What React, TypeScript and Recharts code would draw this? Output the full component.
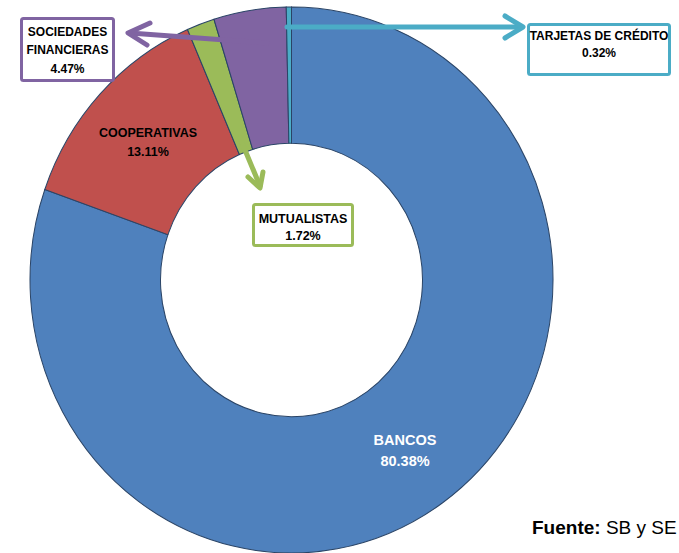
import { Cell, Pie, PieChart } from "recharts";

const NAMES = ["BANCOS", "COOPERATIVAS", "MUTUALISTAS", "SOCIEDADES FINANCIERAS", "TARJETAS DE CRÉDITO"];
const SHARES = [80.38, 13.11, 1.72, 4.47, 0.32];
const COLORS = ["#4F81BD", "#C0504D", "#9BBB59", "#8064A2", "#4BACC6"];
const SOURCE_LABEL = "Fuente:";
const SOURCE_TEXT = " SB y SE";

const FONT = "'Liberation Sans', Arial, sans-serif";

// the original donut is slightly taller than wide
const CX = 291.5;
const CY = 280;
const STRETCH_Y = 1.044;

const pct = (v: number) => `${v.toFixed(2)}%`;

function Arrow({ line, head, color, width }: { line: number[]; head: number[]; color: string; width: number }) {
  return (
    <g stroke={color} strokeWidth={width} fill="none" strokeLinecap="round" strokeLinejoin="round">
      <line x1={line[0]} y1={line[1]} x2={line[2]} y2={line[3]} />
      <polyline points={`${head[0]},${head[1]} ${head[2]},${head[3]} ${head[4]},${head[5]}`} />
    </g>
  );
}

function Box({ x, y, w, h, color }: { x: number; y: number; w: number; h: number; color: string }) {
  return <rect x={x} y={y} width={w} height={h} rx={2} fill="#fff" stroke={color} strokeWidth={3} />;
}

export default function App() {
  const data = NAMES.map((name, i) => ({ name, value: SHARES[i] }));

  return (
    <div style={{ position: "absolute", left: 0, top: 0, width: 679, height: 553, background: "#fff", overflow: "hidden" }}>
      <div style={{ transform: `scaleY(${STRETCH_Y})`, transformOrigin: `${CX}px ${CY}px` }}>
        <PieChart width={679} height={553} margin={{ top: 0, right: 0, bottom: 0, left: 0 }}>
          <Pie
            data={data}
            dataKey="value"
            nameKey="name"
            cx={CX}
            cy={CY}
            innerRadius={131}
            outerRadius={261.5}
            startAngle={90}
            endAngle={-270}
            stroke="#2A4466"
            strokeWidth={1}
            isAnimationActive={false}
          >
            {data.map((d, i) => (
              <Cell key={d.name} fill={COLORS[i]} />
            ))}
          </Pie>
        </PieChart>
      </div>

      <svg width={679} height={553} style={{ position: "absolute", left: 0, top: 0 }} fontFamily={FONT} fontWeight="bold">
        <Arrow line={[267, 43, 130, 33]} head={[150, 23, 128, 33, 147, 45]} color={COLORS[3]} width={5} />
        <Arrow line={[287, 27, 521, 27]} head={[505, 16, 523, 27, 505, 38]} color={COLORS[4]} width={5} />
        <Arrow line={[240, 138, 260, 186]} head={[248, 177, 260, 188, 263, 172]} color={COLORS[2]} width={5} />

        <Box x={21.5} y={18.5} w={92} h={62} color={COLORS[3]} />
        <text textAnchor="middle" fontSize={12} fill="#000">
          <tspan x={67.5} y={36}>SOCIEDADES</tspan>
          <tspan x={67.5} y={54}>FINANCIERAS</tspan>
          <tspan x={67.5} y={72.5}>{pct(SHARES[3])}</tspan>
        </text>

        <Box x={528.5} y={24.5} w={141} h={50} color={COLORS[4]} />
        <text textAnchor="middle" fontSize={12} fill="#000">
          <tspan x={599} y={40}>{NAMES[4]}</tspan>
          <tspan x={599} y={57}>{pct(SHARES[4])}</tspan>
        </text>

        <Box x={253.5} y={204.5} w={99} h={41} color={COLORS[2]} />
        <text textAnchor="middle" fontSize={12.5} fill="#000">
          <tspan x={303} y={223}>{NAMES[2]}</tspan>
          <tspan x={303} y={240}>{pct(SHARES[2])}</tspan>
        </text>

        <text textAnchor="middle" fontSize={12.5} fill="#000">
          <tspan x={148} y={137}>{NAMES[1]}</tspan>
          <tspan x={148} y={156}>{pct(SHARES[1])}</tspan>
        </text>

        <text textAnchor="middle" fontSize={14.5} fill="#fff">
          <tspan x={405} y={445}>{NAMES[0]}</tspan>
          <tspan x={405} y={466}>{pct(SHARES[0])}</tspan>
        </text>

        <text x={532} y={534} fontSize={19} fill="#000">
          <tspan fontWeight="bold">{SOURCE_LABEL}</tspan>
          <tspan fontWeight="normal">{SOURCE_TEXT}</tspan>
        </text>
      </svg>
    </div>
  );
}
